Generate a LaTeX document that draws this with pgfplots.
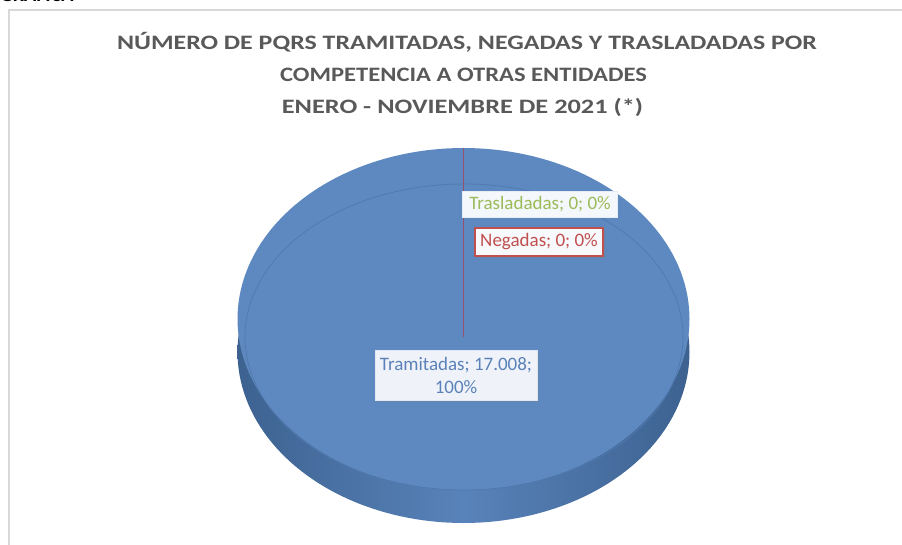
\documentclass[border=0pt]{standalone}
\usepackage{fontspec}
\setmainfont{Carlito}
\usepackage{pgfplots}
\usepackage{pgfplotstable}
\pgfplotsset{compat=1.18}
\usetikzlibrary{shadows}
\definecolor{pieface}{HTML}{5D89C0}
\definecolor{sidemid}{HTML}{5883BA}
\definecolor{sidedark}{HTML}{3D6290}
\definecolor{bevel}{HTML}{4F79AE}
\definecolor{titlegray}{HTML}{595959}
\definecolor{lblgreen}{HTML}{9BBB59}
\definecolor{lblred}{HTML}{C0504D}
\definecolor{lblblue}{HTML}{5A81B9}
\definecolor{framegray}{HTML}{D9D9D9}
\definecolor{zeroline}{HTML}{965070}

\pgfplotstableread{
name value
Tramitadas 17008
Negadas 0
Trasladadas 0
}\piedata

\begin{document}
\begin{tikzpicture}
\pgfplotstablegetelem{0}{value}\of\piedata \edef\vA{\pgfplotsretval}
\pgfplotstablegetelem{1}{value}\of\piedata \edef\vB{\pgfplotsretval}
\pgfplotstablegetelem{2}{value}\of\piedata \edef\vC{\pgfplotsretval}
\edef\aEnd{\fpeval{90-360*\vA/(\vA+\vB+\vC)}}
\edef\px{\fpeval{463.5+226*cosd(\aEnd)}}
\edef\py{\fpeval{319-171*sind(\aEnd)}}
\begin{axis}[width=902bp,height=545bp,scale only axis,
  xmin=0,xmax=902,ymin=0,ymax=545,y dir=reverse,
  hide axis,clip=false]
% frame of the chart area
\draw[framegray,line width=1.3bp] (axis cs:9,546) -- (axis cs:9,10) -- (axis cs:903,10);
% cut heading above the frame
\node[anchor=base west,font=\fontsize{20bp}{24bp}\selectfont\bfseries,inner sep=0pt] at (axis cs:0,2) {GRÁFICA};
% title
\node[anchor=base,text=titlegray,font=\fontsize{20.5bp}{24bp}\selectfont\bfseries,inner sep=0pt] at (axis cs:467,50) {\scalebox{1.263}[1]{NÚMERO DE PQRS TRAMITADAS, NEGADAS Y TRASLADADAS POR}};
\node[anchor=base,text=titlegray,font=\fontsize{20.5bp}{24bp}\selectfont\bfseries,inner sep=0pt] at (axis cs:463.5,82) {\scalebox{1.2}[1]{COMPETENCIA A OTRAS ENTIDADES}};
\node[anchor=base,text=titlegray,font=\fontsize{20.5bp}{24bp}\selectfont\bfseries,inner sep=0pt] at (axis cs:462.5,113) {\scalebox{1.285}[1]{ENERO - NOVIEMBRE DE 2021 (*)}};
% side of the pie
\addplot[draw=none,left color=sidedark,right color=sidedark,middle color=sidemid,
  domain=0:360,samples=181,variable=\t] ({463.5+226*cos(t)},{352-171*sin(t)});
% top face: Tramitadas slice (90 deg clockwise to aEnd)
\addplot[fill=pieface,draw=none,domain=\aEnd:90,samples=181,variable=\t]
  ({463.5+226*cos(t)},{319-171*sin(t)});
% bevel line
\addplot[draw=bevel,line width=0.7bp,domain=0:360,samples=181,variable=\t]
  ({464+219*cos(t)},{337-153*sin(t)});
% zero-width slices (Negadas, Trasladadas): boundary from centre to rim
\addplot[draw=zeroline,line width=0.9bp] coordinates {(463.5,337) (\px,\py)};
% data labels
\node[draw=white!85!pieface,fill=white!93!pieface,text=lblgreen,line width=0.8bp,
  minimum width=155bp,minimum height=26bp,inner sep=0pt,
  font=\fontsize{19bp}{22bp}\selectfont] at (axis cs:540,204) {Trasladadas; 0; 0\%};
\node[draw=lblred,fill=white!95!pieface,text=lblred,line width=1.2bp,
  minimum width=128bp,minimum height=28bp,inner sep=0pt,
  drop shadow={shadow xshift=1.5bp,shadow yshift=-1.5bp,opacity=0.35},
  font=\fontsize{19bp}{22bp}\selectfont] at (axis cs:539,242) {Negadas; 0; 0\%};
\node[draw=white!80!pieface,fill=white!90!pieface,text=lblblue,line width=0.6bp,
  minimum width=162bp,minimum height=50bp,inner sep=0pt,align=center,
  drop shadow={shadow xshift=2bp,shadow yshift=-2bp,opacity=0.3},
  font=\fontsize{19bp}{23bp}\selectfont] at (axis cs:456,375) {Tramitadas; 17.008;\\100\%};
\end{axis}
\pgfresetboundingbox
\path (0,0) rectangle (902bp,545bp);
\end{tikzpicture}
\end{document}
